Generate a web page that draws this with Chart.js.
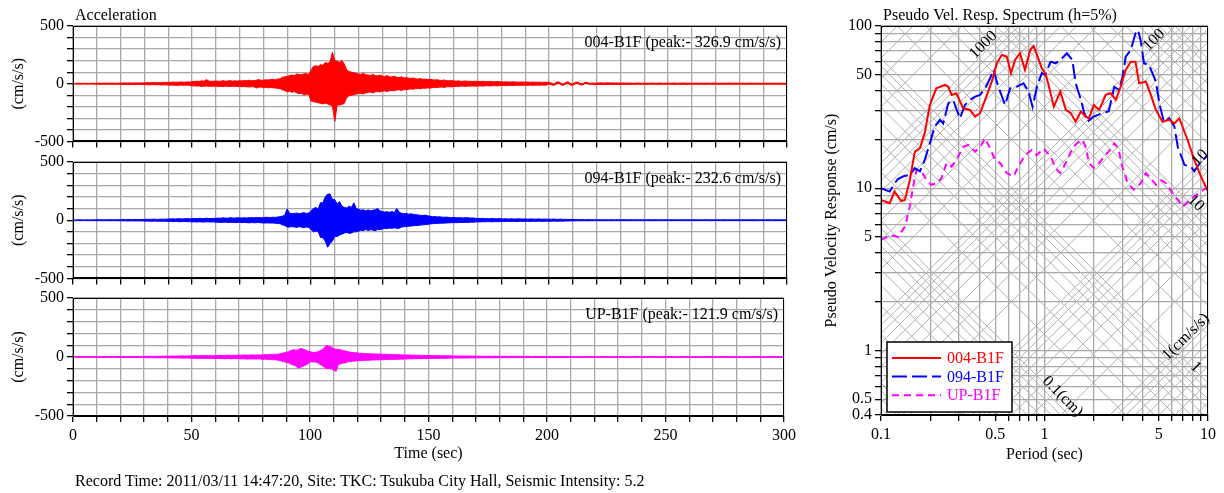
<!DOCTYPE html>
<html>
<head>
<meta charset="utf-8">
<script src="https://cdn.jsdelivr.net/npm/chart.js@4.4.1/dist/chart.umd.min.js"></script>
<style>
  html, body { margin: 0; padding: 0; background: #fff; }
  body { position: relative; width: 1224px; height: 493px; overflow: hidden; font-family: 'Liberation Serif', 'Times New Roman', serif; }
  canvas { position: absolute; }
  #footer { position: absolute; left: 75px; top: 471px; font-size: 16px; line-height: 20px; color: #000; white-space: nowrap; }
</style>
</head>
<body>
<canvas id="acc-004" width="800" height="154" style="left:0;top:0"></canvas>
<canvas id="acc-094" width="800" height="151" style="left:0;top:140px"></canvas>
<canvas id="acc-up" width="800" height="190" style="left:0;top:276px"></canvas>
<canvas id="psv" width="409" height="470" style="left:815px;top:0"></canvas>
<div id="footer">Record Time: 2011/03/11 14:47:20, Site: TKC: Tsukuba City Hall, Seismic Intensity: 5.2</div>
<script>
'use strict';

// Acceleration records (cm/s/s): highest and lowest value reached in each
// second, 0..300 s. At this scale the 100 Hz trace reads as a solid band,
// so it is drawn as the area between the two envelopes.
const accStep = 1;
const acc004Max = [
  3,3,4,3,3,4,3,3,4,3, 4,5,4,5,5,4,5,5,4,5,
  6,6,7,6,7,6,7,7,6,7, 8,9,8,10,9,9,10,9,11,10,
  12,12,14,13,12,15,14,13,16,14, 18,20,22,19,25,21,35,24,20,22,
  24,21,22,26,22,24,27,22,25,23, 26,24,28,25,30,27,26,30,36,28,
  30,34,32,36,38,33,40,42,55,60, 62,70,75,68,85,80,78,85,88,80,
  115,150,155,150,165,160,185,175,190,272, 200,195,185,200,170,120,105,100,95,90,
  85,80,90,78,75,72,80,70,68,75, 65,62,70,60,58,65,55,52,60,50,
  52,48,45,50,42,40,45,38,40,36, 38,35,32,34,30,28,32,26,25,28,
  24,22,25,20,22,24,20,21,19,22, 20,18,21,19,17,20,18,16,19,17,
  16,15,17,14,15,16,14,13,15,14, 13,15,12,14,13,12,14,11,13,12,
  14,6,-2,12,16,4,-4,10,17,2, -3,11,15,3,-2,10,12,2,7,3,
  6,7,8,6,7,8,6,7,6,6, 5,6,5,5,6,5,4,6,5,4,
  5,5,4,6,5,4,6,5,4,5, 5,4,6,5,4,5,5,6,4,5,
  4,5,5,4,6,4,5,5,4,6, 5,4,5,5,4,5,6,4,5,5,
  4,5,4,4,5,5,4,4,5,4, 4,5,4,4,5,4,4,5,4,4,
  4,
];
const acc004Min = [
  -3,-3,-3,-4,-3,-3,-4,-3,-3,-4, -5,-4,-5,-4,-5,-5,-4,-5,-5,-4,
  -6,-7,-6,-6,-7,-6,-7,-6,-7,-6, -9,-8,-10,-9,-8,-10,-9,-11,-10,-9,
  -11,-13,-12,-14,-15,-12,-13,-14,-12,-15, -20,-18,-21,-19,-24,-22,-20,-24,-21,-22,
  -20,-24,-22,-26,-21,-24,-25,-22,-23,-24, -24,-26,-25,-27,-28,-27,-26,-38,-30,-28,
  -34,-30,-36,-33,-35,-38,-40,-42,-55,-60, -70,-65,-75,-68,-80,-85,-82,-98,-92,-90,
  -150,-155,-160,-165,-170,-175,-168,-175,-185,-190, -327,-185,-185,-180,-170,-120,-105,-100,-95,-90,
  -85,-82,-90,-80,-75,-72,-80,-70,-68,-72, -65,-62,-70,-60,-58,-62,-55,-52,-60,-50,
  -52,-48,-45,-48,-42,-40,-45,-38,-40,-36, -38,-35,-32,-34,-30,-28,-32,-26,-25,-28,
  -24,-22,-25,-20,-22,-24,-20,-21,-19,-22, -20,-18,-21,-19,-17,-20,-18,-16,-19,-17,
  -16,-15,-17,-14,-15,-16,-14,-13,-15,-14, -13,-15,-12,-14,-13,-12,-14,-11,-13,-12,
  -2,-10,-16,-2,2,-8,-15,-2,3,-12, -14,-1,2,-9,-12,0,1,-8,-3,-9,
  -7,-6,-8,-6,-7,-8,-6,-7,-6,-6, -6,-5,-5,-6,-5,-5,-6,-4,-5,-5,
  -5,-6,-5,-4,-5,-5,-6,-4,-5,-5, -4,-5,-5,-6,-5,-4,-5,-5,-6,-4,
  -5,-4,-5,-5,-4,-6,-5,-4,-5,-5, -4,-5,-5,-4,-5,-5,-4,-5,-5,-4,
  -5,-4,-4,-5,-4,-4,-5,-4,-4,-5, -4,-4,-5,-4,-4,-4,-5,-4,-4,-4,
  -4,
];
const acc094Max = [
  3,2,3,3,3,2,3,2,3,3, 4,4,4,3,4,4,4,4,4,3,
  5,5,5,5,6,5,5,6,5,6, 7,8,7,8,9,7,8,9,8,9,
  10,11,12,10,13,12,11,13,14,12, 13,15,14,16,15,13,17,15,14,16,
  16,18,17,20,18,17,22,19,18,21, 20,18,22,19,21,23,20,22,24,20,
  22,25,24,23,26,24,28,30,35,45, 97,60,55,58,62,55,60,65,58,62,
  80,100,110,95,150,150,200,225,225,180, 175,140,160,120,110,105,120,110,150,100,
  95,85,90,80,88,82,85,90,100,80, 75,70,72,68,75,65,100,70,60,55,
  58,52,55,50,48,45,42,40,44,38, 35,30,32,28,30,26,25,27,24,22,
  24,20,22,21,19,22,20,18,19,17, 15,14,16,13,14,12,15,13,12,14,
  12,11,13,10,12,11,10,12,11,10, 11,9,10,11,9,10,11,8,10,9,
  9,8,10,7,8,9,7,8,6,7, 6,5,5,4,5,4,4,5,4,4,
  4,3,4,4,3,4,4,3,3,4, 3,4,4,3,3,4,3,3,4,3,
  3,3,4,3,3,4,3,3,3,4, 3,3,4,3,3,3,4,3,3,3,
  3,4,3,3,3,3,4,3,3,3, 3,3,3,4,3,3,3,3,4,3,
  3,3,3,3,3,4,3,3,3,3, 3,3,4,3,3,3,3,3,3,3,
  3,
];
const acc094Min = [
  -3,-3,-2,-3,-2,-3,-2,-3,-3,-2, -4,-3,-4,-4,-3,-4,-4,-3,-4,-4,
  -4,-5,-5,-6,-5,-5,-6,-5,-6,-5, -8,-7,-8,-9,-7,-8,-9,-8,-9,-8,
  -11,-10,-12,-11,-12,-13,-12,-11,-13,-12, -15,-14,-16,-13,-15,-16,-14,-15,-16,-14,
  -18,-17,-20,-18,-17,-19,-18,-19,-21,-20, -18,-20,-19,-21,-23,-20,-22,-21,-20,-22,
  -25,-24,-23,-25,-24,-26,-28,-30,-40,-45, -60,-58,-55,-58,-62,-55,-60,-65,-58,-62,
  -80,-100,-95,-95,-150,-150,-180,-233,-200,-180, -140,-140,-128,-120,-110,-105,-113,-110,-100,-100,
  -95,-85,-90,-80,-88,-82,-85,-90,-80,-80, -75,-70,-72,-68,-70,-65,-70,-70,-60,-55,
  -55,-52,-50,-48,-45,-45,-42,-40,-38,-36, -32,-30,-28,-28,-26,-26,-25,-24,-22,-22,
  -20,-21,-20,-19,-20,-18,-19,-17,-17,-16, -14,-15,-13,-14,-12,-13,-14,-12,-13,-12,
  -11,-12,-10,-11,-11,-10,-12,-10,-10,-11, -9,-10,-11,-9,-10,-9,-8,-10,-9,-8,
  -8,-9,-7,-8,-9,-7,-8,-6,-7,-6, -5,-5,-4,-5,-4,-4,-5,-4,-4,-4,
  -3,-4,-4,-3,-4,-3,-4,-3,-4,-3, -4,-3,-3,-4,-3,-3,-4,-3,-3,-4,
  -3,-3,-3,-4,-3,-3,-3,-4,-3,-3, -3,-4,-3,-3,-3,-3,-3,-4,-3,-3,
  -3,-3,-4,-3,-3,-3,-3,-3,-4,-3, -3,-3,-3,-3,-4,-3,-3,-3,-3,-3,
  -4,-3,-3,-3,-3,-3,-4,-3,-3,-3, -3,-3,-3,-3,-3,-4,-3,-3,-3,-3,
  -3,
];
const accUPMax = [
  2,2,3,2,2,3,2,2,3,2, 3,3,4,3,3,4,3,3,4,3,
  4,5,4,4,5,4,5,5,4,5, 6,5,6,7,5,6,7,6,6,7,
  8,7,9,8,8,9,10,8,9,10, 10,11,12,10,11,12,13,11,12,10,
  12,13,14,12,13,15,14,13,15,14, 16,15,17,16,15,18,17,16,18,17,
  18,20,19,22,20,24,22,26,30,35, 40,45,55,62,58,60,73,68,60,50,
  45,40,38,42,50,60,80,100,90,85, 70,65,65,60,55,50,45,40,38,35,
  35,30,32,28,30,27,28,25,26,24, 25,22,24,21,22,20,21,19,20,18,
  18,16,17,15,16,14,15,13,14,12, 13,12,12,11,12,10,11,10,11,10,
  10,9,9,8,9,8,8,9,8,7, 7,6,7,6,6,7,6,6,7,6,
  6,5,6,5,5,6,5,5,6,5, 5,5,6,4,5,5,4,5,5,4,
  4,4,5,4,4,5,4,4,5,4, 3,3,4,3,3,3,3,4,3,3,
  3,3,3,3,4,3,3,3,3,3, 3,4,3,3,3,3,3,3,4,3,
  3,3,3,3,3,3,4,3,3,3, 3,3,4,3,3,3,3,3,3,4,
  3,3,3,3,3,3,3,4,3,3, 3,3,3,3,4,3,3,3,3,3,
  3,3,3,3,3,3,3,3,4,3, 3,3,3,3,3,3,3,3,3,3,
  3,
];
const accUPMin = [
  -2,-2,-2,-3,-2,-2,-3,-2,-2,-3, -3,-3,-3,-4,-3,-3,-4,-3,-3,-4,
  -4,-4,-5,-4,-4,-5,-4,-5,-5,-4, -5,-6,-6,-5,-7,-6,-6,-7,-6,-6,
  -7,-8,-8,-9,-8,-8,-9,-10,-8,-9, -11,-10,-11,-12,-10,-12,-11,-13,-11,-12,
  -13,-12,-13,-14,-15,-13,-14,-15,-13,-14, -15,-16,-15,-17,-18,-16,-17,-18,-16,-17,
  -20,-18,-22,-20,-24,-22,-26,-28,-35,-40, -45,-50,-62,-70,-75,-95,-88,-80,-70,-60,
  -40,-42,-42,-45,-60,-70,-85,-100,-95,-100, -110,-122,-60,-60,-50,-50,-40,-40,-35,-35,
  -30,-32,-28,-30,-27,-28,-25,-26,-24,-25, -22,-24,-21,-22,-20,-21,-19,-20,-18,-19,
  -16,-17,-15,-16,-14,-15,-13,-14,-12,-13, -12,-12,-11,-12,-10,-11,-10,-11,-10,-10,
  -9,-9,-8,-9,-8,-8,-9,-8,-7,-8, -6,-7,-6,-6,-7,-6,-6,-7,-6,-6,
  -5,-6,-5,-5,-6,-5,-5,-6,-5,-5, -5,-6,-4,-5,-5,-4,-5,-5,-4,-5,
  -4,-5,-4,-4,-5,-4,-4,-5,-4,-4, -3,-3,-3,-4,-3,-3,-3,-3,-4,-3,
  -3,-3,-4,-3,-3,-3,-3,-3,-3,-4, -3,-3,-3,-3,-3,-4,-3,-3,-3,-3,
  -3,-4,-3,-3,-3,-3,-3,-3,-4,-3, -3,-3,-3,-3,-3,-3,-4,-3,-3,-3,
  -3,-3,-3,-4,-3,-3,-3,-3,-3,-3, -4,-3,-3,-3,-3,-3,-3,-3,-3,-4,
  -3,-3,-3,-3,-3,-4,-3,-3,-3,-3, -3,-3,-3,-3,-3,-3,-3,-4,-3,-3,
  -3,
];
const accTickLabels = [-500, 0, 500];
const timeTickLabels = [0, 50, 100, 150, 200, 250, 300];

// Pseudo velocity response spectra (h=5%): period (s) -> velocity (cm/s).
const specPeriod004 = [0.1,0.113,0.121,0.133,0.14,0.15,0.161,0.173,0.185,0.199,0.218,0.246,0.258,0.27,0.289,0.318,0.35,0.376,0.404,0.433,0.476,0.511,0.548,0.588,0.624,0.661,0.708,0.76,0.817,0.857,0.908,0.962,1.01,1.06,1.14,1.25,1.35,1.45,1.55,1.67,1.79,1.87,2.0,2.16,2.37,2.54,2.73,2.92,3.14,3.37,3.6,3.79,4.17,4.47,4.8,5.27,5.79,6.23,6.67,7.5,8.25,9.06,10];
const specVel004 = [8.47,8.09,9.53,8.34,8.47,11.2,16.8,17.6,21.8,32.6,41.3,43.3,42.2,37.6,38.5,31.1,30.4,27.6,29,35,45.4,58.9,66.3,64.7,51.2,61.8,67.9,53.6,71.1,75.3,64.7,54.9,51.2,43.3,31.8,39.4,30.4,29,25.7,29.7,27.6,27,32.6,30.4,37.6,38.5,35,42.2,53.6,60.3,60.3,44.4,45.4,37.6,30.4,25.7,26.4,25.1,27,19.9,14.9,11.8,9.53];
const specPeriod094 = [0.1,0.113,0.121,0.127,0.136,0.15,0.161,0.173,0.185,0.199,0.213,0.229,0.24,0.258,0.276,0.304,0.326,0.35,0.376,0.404,0.433,0.465,0.487,0.522,0.574,0.616,0.676,0.744,0.799,0.845,0.899,0.962,1.01,1.09,1.17,1.25,1.37,1.48,1.55,1.67,1.74,1.83,2.0,2.25,2.47,2.67,2.85,2.99,3.14,3.37,3.6,3.73,3.87,4.06,4.36,4.8,5.04,5.37,5.79,6.23,6.53,7.19,7.85,8.25,9.06,10];
const specVel094 = [10,9.53,10.7,11.4,11.8,12.1,13.3,12.7,14.9,18.9,24,26.4,25.1,33.4,35,27,32.6,35,36.7,37.6,41.3,47.6,53.6,42.2,32.6,41.3,42.2,44.4,39.4,31.8,42.2,51.2,49.9,60.3,58.9,61.8,67.9,61.8,44.4,35,29.7,25.7,27.6,29,29.7,42.2,40.4,47.6,64.7,71.1,90.1,94.5,82,58.9,57.5,45.4,33.4,25.7,27,24,18,13.9,13.6,12.7,14.6,16];
const specPeriodUP = [0.1,0.116,0.127,0.14,0.15,0.157,0.165,0.177,0.19,0.203,0.218,0.234,0.252,0.27,0.289,0.318,0.342,0.376,0.404,0.433,0.465,0.499,0.535,0.588,0.645,0.692,0.76,0.836,0.899,0.985,1.09,1.17,1.25,1.35,1.48,1.58,1.7,1.79,1.87,2.0,2.16,2.35,2.47,2.67,2.83,2.99,3.23,3.52,3.87,4.17,4.47,4.8,5.17,5.56,6.09,6.53,7.01,7.5,8.25,9.06,10];
const specVelUP = [4.8,5.15,5.0,5.8,7.7,10.2,13,12.7,11.2,10.5,10.7,11.5,14.3,13.6,14.9,18,18.5,16.8,18,20.3,17.6,14.9,14.3,12.4,11.8,13.6,16,17.2,16,17.6,15.7,13.3,12.4,14.3,17.6,18.9,19.9,18,14.3,13.3,14.3,16,16.8,18.9,17.6,13.6,10.7,9.8,10.7,12.4,11.5,10.5,11.2,10.7,9.3,8.47,7.7,8.2,8.9,9.53,10.2];

const periodGrid = [0.1,0.2,0.3,0.4,0.5,0.6,0.7,0.8,0.9,1,2,3,4,5,6,7,8,9,10];
const periodTickLabels = [0.1, 0.5, 1, 5, 10];
const velGrid = [0.4,0.5,0.6,0.7,0.8,0.9,1,2,3,4,5,6,7,8,9,10,20,30,40,50,60,70,80,90,100];
const velTickLabels = [0.4, 0.5, 1, 5, 10, 50, 100];

// tripartite diagonals: constant displacement (cm) and constant acceleration (cm/s/s)
const gridDigits = [1,2,3,4,5,6,7,8,9];
const dispDecades = [0.001, 0.01, 0.1, 1, 10, 100];
const accDecades = [0.1, 1, 10, 100, 1000];
const diagLabelText = ['1000', '100', '10', '10', '1(cm/s/s)', '1', '0.1(cm)'];
const diagLabelKind = ['acc', 'acc', 'acc', 'disp', 'acc', 'disp', 'disp'];
const diagLabelPeriod = [0.423, 4.67, 8.93, 8.43, 7.33, 8.43, 1.29];
const diagLabelVel = [76.4, 82, 15.4, 8.1, 1.21, 0.79, 0.52];

const FONT = "'Liberation Serif', 'Times New Roman', serif";
const GRID = '#a9a9a9';
const DIAG = '#b0b0b0';
const TWO_PI = 2 * Math.PI;

Chart.defaults.font.family = FONT;
Chart.defaults.font.size = 16;
Chart.defaults.color = '#000';
Chart.defaults.animation = false;

const near = (list, v) => list.find(t => Math.abs(t - v) < 1e-6 * Math.max(1, Math.abs(t)));

// frame on all four sides plus the small texts that sit on the plot
const panelText = {
  id: 'panelText',
  afterDraw(chart, args, o) {
    const { ctx, chartArea: a } = chart;
    ctx.save();
    ctx.strokeStyle = '#000';
    ctx.lineWidth = 1;
    ctx.strokeRect(Math.round(a.left) + 0.5, Math.round(a.top) + 0.5, Math.round(a.right - a.left) - 1, Math.round(a.bottom - a.top) - 1);
    ctx.font = '16px ' + FONT;
    ctx.fillStyle = '#000';
    ctx.textBaseline = 'middle';
    if (o.title) {
      ctx.textAlign = 'left';
      ctx.fillText(o.title, a.left + 2, a.top - 10);
    }
    if (o.label) {
      ctx.textAlign = 'right';
      ctx.fillText(o.label, a.right - 6, a.top + 17);
    }
    ctx.restore();
  },
};

const series = (values) => values.map((v, i) => ({ x: i * accStep, y: v }));

function accChart(id, hi, lo, color, label, o) {
  return new Chart(document.getElementById(id), {
    type: 'line',
    data: {
      datasets: [
        { data: series(hi), borderColor: color, backgroundColor: color, borderWidth: 1, pointRadius: 0, tension: 0, fill: '+1' },
        { data: series(lo), borderColor: color, backgroundColor: color, borderWidth: 1, pointRadius: 0, tension: 0, fill: false },
      ],
    },
    options: {
      responsive: false,
      parsing: false,
      layout: { padding: { top: o.padTop, right: 13, left: 0, bottom: 0 } },
      plugins: { legend: { display: false }, tooltip: { enabled: false }, panelText: { title: o.title, label } },
      scales: {
        x: {
          type: 'linear', min: 0, max: 300,
          ticks: { stepSize: 10, autoSkip: false, maxRotation: 0, padding: 4,
            callback: v => (o.timeAxis && near(timeTickLabels, v) !== undefined) ? String(v) : '' },
          grid: { color: GRID, lineWidth: 1.3, tickColor: '#000', tickLength: 6 },
          border: { color: '#000', width: 1 },
          title: { display: !!o.timeAxis, text: 'Time (sec)', padding: { top: 0, bottom: 3 } },
          afterFit: s => { s.height = o.axisHeight; },
        },
        y: {
          type: 'linear', min: -500, max: 500,
          ticks: { stepSize: 100, autoSkip: false, padding: 3,
            callback: v => near(accTickLabels, v) !== undefined ? String(v) : '' },
          grid: { color: GRID, lineWidth: 1.3, tickColor: '#000', tickLength: 6 },
          border: { color: '#000', width: 1 },
          title: { display: true, text: '(cm/s/s)', padding: { top: 9, bottom: 0 } },
          afterFit: s => { s.width = 73; },
        },
      },
    },
    plugins: [panelText],
  });
}

accChart('acc-004', acc004Max, acc004Min, '#ff0000', '004-B1F (peak:- 326.9 cm/s/s)', { padTop: 26, axisHeight: 10, title: 'Acceleration' });
accChart('acc-094', acc094Max, acc094Min, '#0000ff', '094-B1F (peak:- 232.6 cm/s/s)', { padTop: 22, axisHeight: 10 });
accChart('acc-up', accUPMax, accUPMin, '#ff00ff', 'UP-B1F (peak:- 121.9 cm/s/s)', { padTop: 22, axisHeight: 50, timeAxis: true });

// diagonal grid under the curves, diagonal labels and the boxed legend on top
const tripartite = {
  id: 'tripartite',
  beforeDatasetsDraw(chart) {
    const { ctx, chartArea: a, scales: { x, y } } = chart;
    const tA = x.min, tB = x.max;
    const seg = (t0, v0, t1, v1) => {
      ctx.moveTo(x.getPixelForValue(t0), y.getPixelForValue(v0));
      ctx.lineTo(x.getPixelForValue(t1), y.getPixelForValue(v1));
    };
    ctx.save();
    ctx.beginPath();
    ctx.rect(a.left, a.top, a.right - a.left, a.bottom - a.top);
    ctx.clip();
    ctx.beginPath();
    dispDecades.forEach(dec => gridDigits.forEach(k => {
      const d = dec * k; // V = 2*pi*D/T
      seg(tA, TWO_PI * d / tA, tB, TWO_PI * d / tB);
    }));
    accDecades.forEach(dec => gridDigits.forEach(k => {
      const acc = dec * k; // V = A*T/(2*pi)
      seg(tA, acc * tA / TWO_PI, tB, acc * tB / TWO_PI);
    }));
    ctx.strokeStyle = DIAG;
    ctx.lineWidth = 1;
    ctx.stroke();
    ctx.restore();
  },
  afterDraw(chart) {
    const { ctx, chartArea: a, scales: { x, y } } = chart;
    const dx = x.getPixelForValue(10) - x.getPixelForValue(1);
    const dy = y.getPixelForValue(10) - y.getPixelForValue(1);
    ctx.save();
    ctx.font = '16px ' + FONT;
    ctx.fillStyle = '#000';
    ctx.textAlign = 'center';
    ctx.textBaseline = 'middle';
    diagLabelText.forEach((text, i) => {
      const ang = diagLabelKind[i] === 'acc' ? Math.atan2(dy, dx) : Math.atan2(-dy, dx);
      ctx.save();
      ctx.translate(x.getPixelForValue(diagLabelPeriod[i]), y.getPixelForValue(diagLabelVel[i]));
      ctx.rotate(ang);
      ctx.fillText(text, 0, 0);
      ctx.restore();
    });

    const lx = a.left + 6, ly = a.bottom - 73, lw = 125, lh = 70;
    ctx.fillStyle = '#fff';
    ctx.fillRect(lx, ly, lw, lh);
    ctx.strokeStyle = '#000';
    ctx.lineWidth = 1.5;
    ctx.strokeRect(lx, ly, lw, lh);
    ctx.textAlign = 'left';
    chart.data.datasets.forEach((ds, i) => {
      const ry = ly + 16 + i * 18.6;
      ctx.beginPath();
      ctx.setLineDash(ds.borderDash || []);
      ctx.strokeStyle = ds.borderColor;
      ctx.lineWidth = 2;
      ctx.moveTo(lx + 5, ry);
      ctx.lineTo(lx + 54, ry);
      ctx.stroke();
      ctx.setLineDash([]);
      ctx.fillStyle = ds.borderColor;
      ctx.fillText(ds.label, lx + 60, ry + 1);
    });
    ctx.restore();
  },
};

const pairs = (ts, vs) => ts.map((t, i) => ({ x: t, y: vs[i] }));

new Chart(document.getElementById('psv'), {
  type: 'line',
  data: {
    datasets: [
      { label: '004-B1F', data: pairs(specPeriod004, specVel004), borderColor: '#ff0000', borderWidth: 2, pointRadius: 0, tension: 0 },
      { label: '094-B1F', data: pairs(specPeriod094, specVel094), borderColor: '#0000ff', borderWidth: 2, borderDash: [15, 5], pointRadius: 0, tension: 0 },
      { label: 'UP-B1F', data: pairs(specPeriodUP, specVelUP), borderColor: '#ff00ff', borderWidth: 2, borderDash: [7, 5], pointRadius: 0, tension: 0 },
    ],
  },
  options: {
    responsive: false,
    parsing: false,
    layout: { padding: { top: 26, right: 16, left: 0, bottom: 0 } },
    plugins: { legend: { display: false }, tooltip: { enabled: false }, panelText: { title: 'Pseudo Vel. Resp. Spectrum (h=5%)' } },
    scales: {
      x: {
        type: 'logarithmic', min: 0.1, max: 10,
        afterBuildTicks: s => { s.ticks = periodGrid.map(v => ({ value: v })); },
        ticks: { autoSkip: false, maxRotation: 0, padding: 4,
          callback: v => { const t = near(periodTickLabels, v); return t === undefined ? '' : String(t); } },
        grid: { color: GRID, lineWidth: 1.3, tickColor: '#000', tickLength: 6 },
        border: { color: '#000', width: 1 },
        title: { display: true, text: 'Period (sec)', padding: { top: 0, bottom: 6 } },
        afterFit: s => { s.height = 55; },
      },
      y: {
        type: 'logarithmic', min: 0.4, max: 100,
        afterBuildTicks: s => { s.ticks = velGrid.map(v => ({ value: v })); },
        ticks: { autoSkip: false, padding: 3,
          callback: v => { const t = near(velTickLabels, v); return t === undefined ? '' : String(t); } },
        grid: { color: GRID, lineWidth: 1.3, tickColor: '#000', tickLength: 6 },
        border: { color: '#000', width: 1 },
        title: { display: true, text: 'Pseudo Velocity Response (cm/s)', padding: { top: 7, bottom: 0 } },
        afterFit: s => { s.width = 66; },
      },
    },
  },
  plugins: [panelText, tripartite],
});
</script>
</body>
</html>
